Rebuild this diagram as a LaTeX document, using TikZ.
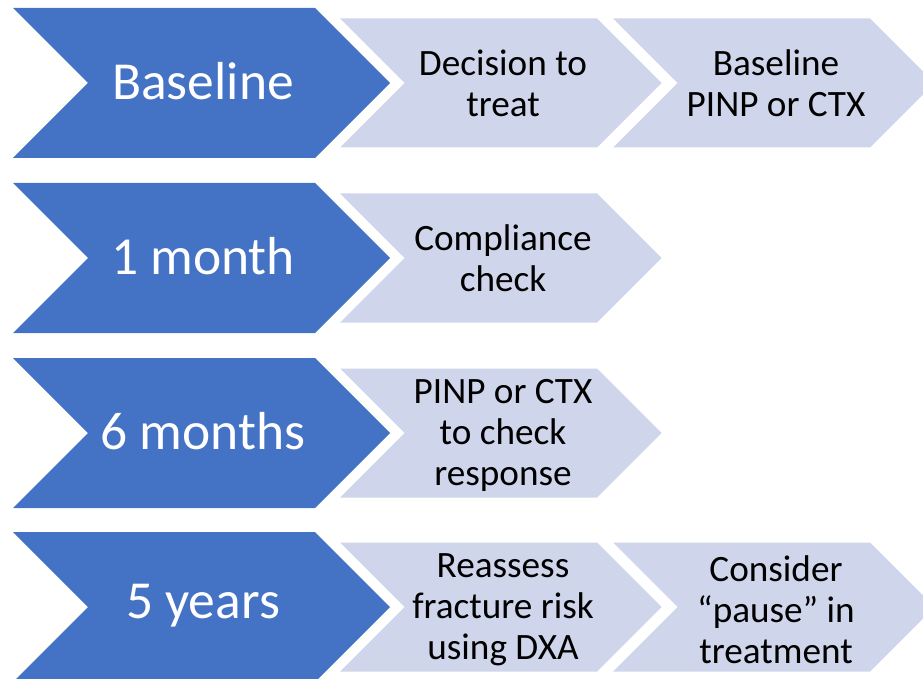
\documentclass[tikz,border=0pt]{standalone}
\usepackage{fontspec}
\setmainfont{Carlito}
\definecolor{darkblue}{HTML}{4472C4}
\definecolor{paleblue}{HTML}{CFD5EA}
\newcommand\chevshape[5]{% xl, xr, yc, h, color
  \fill[#5] (#1,#3-#4) -- (#2,#3-#4) -- (#2+#4,#3) -- (#2,#3+#4) -- (#1,#3+#4) -- (#1+#4,#3) -- cycle;}
\begin{document}
\begin{tikzpicture}[x=1pt,y=-1pt,
  bigtext/.style={text=white,font=\fontsize{53.5}{64}\selectfont,align=center},
  smalltext/.style={text=black,font=\fontsize{37.2}{41}\selectfont,align=center}]
\useasboundingbox (0,0) rectangle (923,679);
\foreach \yc in {83,258,433,607}{
  \chevshape{13}{315}{\yc}{75}{darkblue}
}
\foreach \yc in {83,258,433,607}{
  \chevshape{340}{597}{\yc}{64.5}{paleblue}
}
\foreach \yc in {83,607}{
  \chevshape{613}{870}{\yc}{64.5}{paleblue}
}
\node[bigtext] (b1) at (203,81) {Baseline};
\node[bigtext] (b2) at (203,256) {1 month};
\node[bigtext] (b3) at (203,431) {6 months};
\node[bigtext] (b4) at (203,606) {5 years};
\node[smalltext] (s11) at (503,83) {Decision to\\treat};
\node[smalltext] (s12) at (776,83) {Baseline\\PINP or CTX};
\node[smalltext] (s21) at (503,258) {Compliance\\check};
\node[smalltext] (s31) at (503,435) {PINP or CTX\\to check\\response};
\node[smalltext] (s41) at (503,610) {Reassess\\fracture risk\\using DXA};
\node[smalltext] (s42) at (776,610) {Consider\\“pause” in\\treatment};
\end{tikzpicture}
\end{document}
